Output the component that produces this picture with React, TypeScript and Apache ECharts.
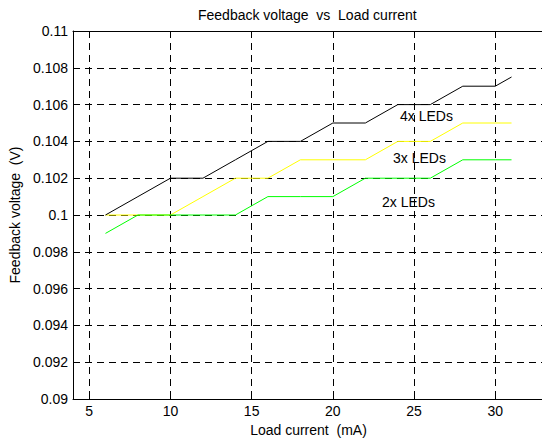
import React, { useEffect, useRef } from "react";
import * as echarts from "echarts";

const xValues = [6, 8, 10, 12, 14, 16, 18, 20, 22, 24, 26, 28, 30, 31];
const leds4 = [0.1, 0.101, 0.102, 0.102, 0.103, 0.104, 0.104, 0.105, 0.105, 0.106, 0.106, 0.107, 0.107, 0.1075];
const leds3 = [0.1, 0.1, 0.1, 0.101, 0.102, 0.102, 0.103, 0.103, 0.103, 0.104, 0.104, 0.105, 0.105, 0.105];
const leds2 = [0.099, 0.1, 0.1, 0.1, 0.1, 0.101, 0.101, 0.101, 0.102, 0.102, 0.102, 0.103, 0.103, 0.103];
const xTicks = [5, 10, 15, 20, 25, 30];
const seriesNames = ["4x LEDs", "3x LEDs", "2x LEDs"];

const FONT = "'Liberation Sans', Arial, sans-serif";

export default function App() {
  const ref = useRef<HTMLDivElement>(null);
  useEffect(() => {
    if (!ref.current) return;
    const chart = echarts.init(ref.current, undefined, { renderer: "svg" });
    const pair = (ys: number[]) => xValues.map((x, i) => [x, ys[i]]);
    const gridLine = { show: true, lineStyle: { color: "#000", width: 1, type: [7, 5] as any } };
    chart.setOption({
      animation: false,
      backgroundColor: "#fff",
      textStyle: { fontFamily: FONT },
      title: {
        text: "Feedback voltage  vs  Load current",
        left: 198,
        top: 8,
        padding: 0,
        textStyle: { fontSize: 14, fontWeight: "normal", color: "#000", fontFamily: FONT },
      },
      grid: { left: 73, top: 31, width: 471, height: 368, outerBoundsMode: "none", containLabel: false },
      xAxis: [
        {
          type: "value",
          min: 4,
          max: 33,
          name: "Load current  (mA)",
          nameLocation: "middle",
          nameGap: 17,
          nameTextStyle: { fontSize: 14, color: "#000", fontFamily: FONT },
          axisLine: { show: true, onZero: false, lineStyle: { color: "#000", width: 1 } },
          axisTick: { show: true, inside: true, length: 5, customValues: xTicks, lineStyle: { color: "#000" } },
          axisLabel: { show: true, customValues: xTicks, fontSize: 14, color: "#000", margin: 5, fontFamily: FONT },
          splitLine: gridLine,
        },
        {
          type: "value",
          position: "top",
          min: 4,
          max: 33,
          axisLine: { show: true, onZero: false, lineStyle: { color: "#000", width: 1 } },
          axisTick: { show: true, inside: true, length: 5, customValues: xTicks, lineStyle: { color: "#000" } },
          axisLabel: { show: false },
          splitLine: { show: false },
        },
      ],
      yAxis: {
        type: "value",
        min: 0.09,
        max: 0.11,
        interval: 0.002,
        name: "Feedback voltage  (V)",
        nameLocation: "middle",
        nameGap: 43,
        nameTextStyle: { fontSize: 14, color: "#000", fontFamily: FONT },
        axisLine: { show: true, onZero: false, lineStyle: { color: "#000", width: 1 } },
        axisTick: { show: true, inside: true, length: 5, lineStyle: { color: "#000" } },
        axisLabel: {
          fontSize: 14,
          color: "#000",
          margin: 5,
          fontFamily: FONT,
          formatter: (v: number) => String(parseFloat(v.toFixed(4))),
        },
        splitLine: gridLine,
      },
      graphic: [
        { type: "text", left: 400, top: 109, style: { text: seriesNames[0], font: `14px ${FONT}`, fill: "#000" } },
        { type: "text", left: 393, top: 151, style: { text: seriesNames[1], font: `14px ${FONT}`, fill: "#000" } },
        { type: "text", left: 382, top: 195, style: { text: seriesNames[2], font: `14px ${FONT}`, fill: "#000" } },
      ],
      series: [
        {
          name: seriesNames[1],
          type: "line",
          data: pair(leds3),
          showSymbol: false,
          lineStyle: { color: "#ffff00", width: 1 },
          itemStyle: { color: "#ffff00" },
        },
        {
          name: seriesNames[2],
          type: "line",
          data: pair(leds2),
          showSymbol: false,
          lineStyle: { color: "#00ff00", width: 1 },
          itemStyle: { color: "#00ff00" },
        },
        {
          name: seriesNames[0],
          type: "line",
          data: pair(leds4),
          showSymbol: false,
          lineStyle: { color: "#000", width: 1 },
          itemStyle: { color: "#000" },
        },
      ],
    });
    return () => chart.dispose();
  }, []);
  return <div ref={ref} style={{ position: "absolute", left: 0, top: 0, width: 542, height: 443 }} />;
}
